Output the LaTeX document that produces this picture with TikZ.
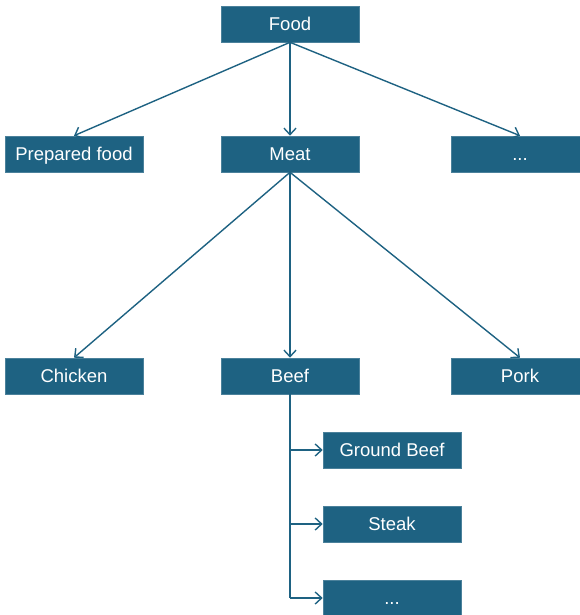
\documentclass[tikz,border=0pt]{standalone}
\usepackage{fontspec}
\setmainfont{Liberation Sans}
\usetikzlibrary{arrows.meta}
\definecolor{boxblue}{RGB}{30,98,130}
\begin{document}
\begin{tikzpicture}[x=1pt,y=-1pt,
  box/.style={fill=boxblue,draw=boxblue!80!white,line width=0.6pt,text=white,minimum width=138pt,minimum height=36pt,inner sep=0pt,text height=13.2pt,text depth=0pt,font=\fontsize{18.5}{21}\selectfont},
  conn/.style={draw=boxblue,line width=1.4pt,-{Straight Barb[length=6.5pt,width=12pt,line width=1.4pt]}},
  plain/.style={draw=boxblue,line width=1.4pt}]
\useasboundingbox (0,0) rectangle (580,615);
\begin{scope}
\clip (0,0) rectangle (580,615);
\node[box] (food) at (290,24) {Food};
\node[box] (prep) at (74,154) {Prepared food};
\node[box] (meat) at (290,154) {Meat};
\node[box] (dots1) at (520,154) {...};
\node[box] (chicken) at (74,376) {Chicken};
\node[box] (beef) at (290,376) {Beef};
\node[box] (pork) at (520,376) {Pork};
\node[box] (ground) at (392,450) {Ground Beef};
\node[box] (steak) at (392,524) {Steak};
\node[box] (dots2) at (392,598) {...};
\draw[conn] (food.south) -- (prep.north);
\draw[conn] (food.south) -- (meat.north);
\draw[conn] (food.south) -- (dots1.north);
\draw[conn] (meat.south) -- (chicken.north);
\draw[conn] (meat.south) -- (beef.north);
\draw[conn] (meat.south) -- (pork.north);
\coordinate (b1) at (beef.south |- ground.west);
\coordinate (b2) at (beef.south |- steak.west);
\coordinate (b3) at (beef.south |- dots2.west);
\draw[plain] (beef.south) -- (b3);
\draw[conn] (b1) -- (ground.west);
\draw[conn] (b2) -- (steak.west);
\draw[conn] (b3) -- (dots2.west);
\end{scope}
\end{tikzpicture}
\end{document}
